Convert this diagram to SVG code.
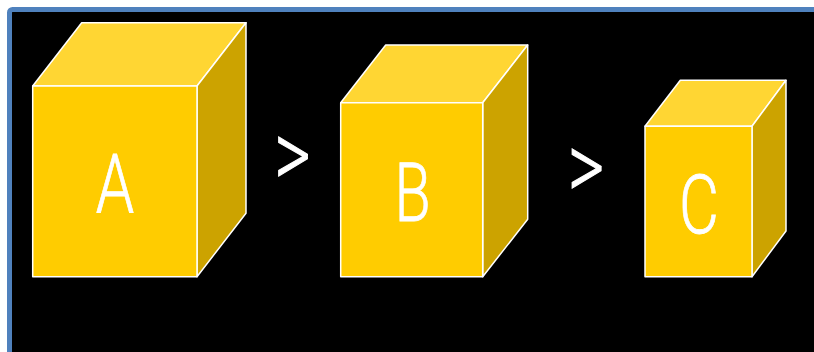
<svg xmlns="http://www.w3.org/2000/svg" width="814" height="352" viewBox="0 0 814 352">
  <style>
    .front { fill: #FFCC00; stroke: #FFFFFF; stroke-width: 1.5; stroke-linejoin: round; }
    .top { fill: #FFD633; stroke: #FFFFFF; stroke-width: 1.5; stroke-linejoin: round; }
    .side { fill: #CCA300; stroke: #FFFFFF; stroke-width: 1.5; stroke-linejoin: round; }
    .label { font-family: Roboto, "Liberation Sans", sans-serif; font-weight: 300; font-size: 82px; fill: #FFFFFF; stroke: #FFFFFF; stroke-width: 0.8; text-anchor: middle; }
    .op { font-family: Roboto, "Liberation Sans", sans-serif; font-weight: 300; font-size: 94px; fill: #FFFFFF; stroke: #FFFFFF; stroke-width: 1; text-anchor: middle; }
  </style>
  <rect x="0" y="0" width="814" height="352" fill="#FFFFFF"/>
  <!-- framed dark panel -->
  <rect x="9.5" y="9.5" width="830" height="370" rx="3" fill="#000000" stroke="#4F81BD" stroke-width="5"/>

  <g id="cubeA">
    <polygon class="top" points="32.7,86 81.7,22.7 246,22.7 197,86"/>
    <polygon class="side" points="197,86 246,22.7 246,213.3 197,276.7"/>
    <rect class="front" x="32.7" y="86" width="164.3" height="190.7"/>
    <text class="label" transform="translate(115,211.7) scale(0.75,1)">A</text>
  </g>

  <g id="gt1">
    <text class="op" transform="translate(292.5,187) scale(0.75,1)">&gt;</text>
  </g>

  <g id="cubeB">
    <polygon class="top" points="340.7,102.7 385.7,45 527.7,45 482.7,102.7"/>
    <polygon class="side" points="482.7,102.7 527.7,45 527.7,219.3 482.7,276.7"/>
    <rect class="front" x="340.7" y="102.7" width="142" height="174"/>
    <text class="label" transform="translate(412.5,220.7) scale(0.72,1)">B</text>
  </g>

  <g id="gt2">
    <text class="op" transform="translate(586,199) scale(0.75,1)">&gt;</text>
  </g>

  <g id="cubeC">
    <polygon class="top" points="645,126.3 680.3,80.3 786,80.3 752,126.3"/>
    <polygon class="side" points="752,126.3 786,80.3 786,231 752,276.7"/>
    <rect class="front" x="645" y="126.3" width="107" height="150.4"/>
    <text class="label" transform="translate(699,233) scale(0.75,1)">C</text>
  </g>
</svg>
